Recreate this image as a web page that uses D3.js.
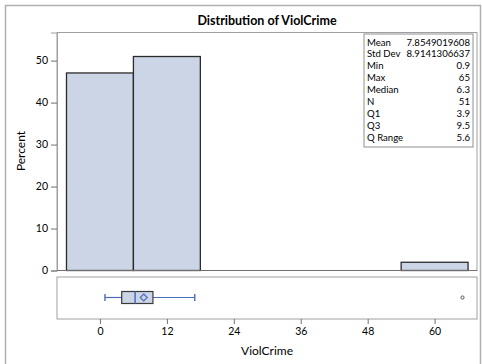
<!DOCTYPE html>
<html><head><meta charset="utf-8">
<script src="https://cdn.jsdelivr.net/npm/d3@7"></script>
<style>body{margin:0;background:#fff}svg{display:block;font-family:Lato,"Open Sans",sans-serif}</style>
</head><body>
<script>
const binStarts = [-6, 6, 54];
const binWidth = 12;
const percents = [47.06, 50.98, 1.96];
const xTicks = [0, 12, 24, 36, 48, 60];
const yTicks = [0, 10, 20, 30, 40, 50];
const statLabels = ["Mean","Std Dev","Min","Max","Median","N","Q1","Q3","Q Range"];
const statValues = ["7.8549019608","8.9141306637","0.9","65","6.3","51","3.9","9.5","5.6"];
const boxStats = {min: 0.9, q1: 3.9, median: 6.3, q3: 9.5, whiskerHi: 17.0, mean: 7.855};
const outliers = [65];

const W = 482, H = 364;
const svg = d3.select("body").append("svg").attr("width", W).attr("height", H);
const L = 57, R = 477, T = 32.5, B = 270.5;
const bT = 277, bB = 319;
const x = d3.scaleLinear().domain([-7.7, 67.6]).range([L, R]);
const y = d3.scaleLinear().domain([0, 56.7]).range([B, T]);

// outer frame
svg.append("path").attr("d", `M5.5,364V5.5H480.5V364`).attr("fill","none").attr("stroke","#b0b0b0").attr("stroke-width",1.5);

svg.append("text").attr("x", 267).attr("y", 25).attr("text-anchor","middle")
  .attr("font-size", 12.5).attr("font-weight","bold").attr("fill","#000").text("Distribution of ViolCrime");

// plot frame
svg.append("rect").attr("x", L).attr("y", T).attr("width", R-L).attr("height", B-T)
  .attr("fill","none").attr("stroke","#a0a0a0");

// bars
svg.selectAll("rect.bar").data(binStarts).enter().append("rect").attr("class","bar")
  .attr("x", d => x(d)).attr("width", d => x(d+binWidth)-x(d))
  .attr("y", (d,i) => y(percents[i])).attr("height", (d,i) => y(0)-y(percents[i]))
  .attr("fill","#cbd5e5").attr("stroke","#2b2b2b").attr("stroke-width",1.3);

// y axis
const ya = svg.append("g").attr("transform", `translate(${L},0)`)
  .call(d3.axisLeft(y).tickValues(yTicks).tickSize(6).tickPadding(3));
ya.select(".domain").attr("stroke","#a0a0a0");
ya.selectAll(".tick line").attr("stroke","#707070");
ya.selectAll("text").attr("font-size",10.5).attr("fill","#000").attr("font-family","Lato, sans-serif");
svg.append("line").attr("x1",L).attr("x2",R).attr("y1",B).attr("y2",B).attr("stroke","#707070").attr("stroke-width",1.2);

svg.append("text").attr("transform", `translate(25,151) rotate(-90)`).attr("text-anchor","middle")
  .attr("font-size", 12).attr("fill","#000").text("Percent");

// stats table
const sx = 364, sy = 34, sw = 109, sh = 113;
svg.append("rect").attr("x", sx).attr("y", sy).attr("width", sw).attr("height", sh)
  .attr("fill","#fff").attr("stroke","#909090");
statLabels.forEach((lab, i) => {
  const yy = sy + 11.5 + i*11.9;
  svg.append("text").attr("x", sx+3).attr("y", yy).attr("font-size",9.6).attr("fill","#000").text(lab);
  svg.append("text").attr("x", sx+sw-3).attr("y", yy).attr("font-size",9.6).attr("text-anchor","end").attr("fill","#000").text(statValues[i]);
});

// box plot panel
svg.append("rect").attr("x", L).attr("y", bT).attr("width", R-L).attr("height", bB-bT)
  .attr("fill","none").attr("stroke","#a0a0a0");
const cy = 297.5, bh = 12;
const wc = "#4a6bc0";
svg.append("line").attr("x1", x(boxStats.min)).attr("x2", x(boxStats.q1)).attr("y1",cy).attr("y2",cy).attr("stroke",wc).attr("stroke-width",1.2);
svg.append("line").attr("x1", x(boxStats.q3)).attr("x2", x(boxStats.whiskerHi)).attr("y1",cy).attr("y2",cy).attr("stroke",wc).attr("stroke-width",1.2);
[boxStats.min, boxStats.whiskerHi].forEach(v => {
  svg.append("line").attr("x1", x(v)).attr("x2", x(v)).attr("y1",cy-3.5).attr("y2",cy+3.5).attr("stroke",wc).attr("stroke-width",1.4);
});
svg.append("rect").attr("x", x(boxStats.q1)).attr("y", cy-bh/2).attr("width", x(boxStats.q3)-x(boxStats.q1)).attr("height", bh)
  .attr("fill","#cbd5e5").attr("stroke","#3a3a3a").attr("stroke-width",1.2);
svg.append("line").attr("x1", x(boxStats.median)).attr("x2", x(boxStats.median)).attr("y1",cy-bh/2).attr("y2",cy+bh/2).attr("stroke",wc).attr("stroke-width",1.5);
const mx = x(boxStats.mean);
svg.append("path").attr("d", `M${mx},${cy-3.5}L${mx+3.5},${cy}L${mx},${cy+3.5}L${mx-3.5},${cy}Z`)
  .attr("fill","none").attr("stroke",wc).attr("stroke-width",1.1);
svg.selectAll("circle.out").data(outliers).enter().append("circle").attr("class","out")
  .attr("cx", d => x(d)).attr("cy", cy).attr("r", 1.6).attr("fill","none").attr("stroke","#555");

// x axis
const xa = svg.append("g").attr("transform", `translate(0,${bB})`)
  .call(d3.axisBottom(x).tickValues(xTicks).tickSize(5).tickPadding(4));
xa.select(".domain").remove();
xa.selectAll(".tick line").attr("stroke","#707070");
xa.selectAll("text").attr("font-size",10.5).attr("fill","#000").attr("font-family","Lato, sans-serif");

svg.append("text").attr("x", 267).attr("y", 355).attr("text-anchor","middle")
  .attr("font-size", 12).attr("fill","#000").text("ViolCrime");
</script>
</body></html>
